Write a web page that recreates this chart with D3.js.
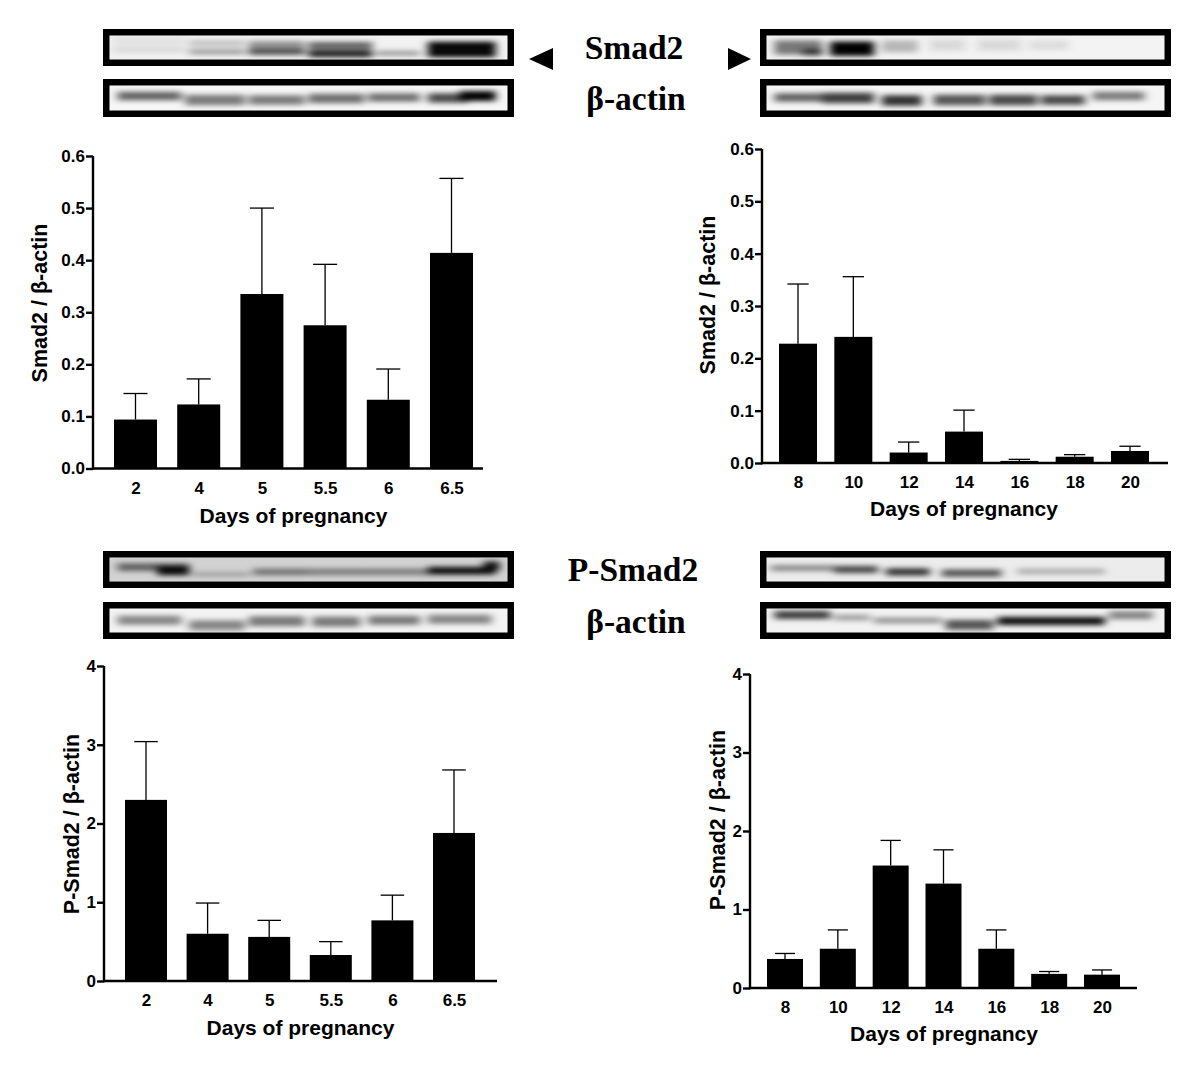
<!DOCTYPE html>
<html><head><meta charset="utf-8">
<script src="https://cdn.jsdelivr.net/npm/d3@7/dist/d3.min.js"></script>
<style>html,body{margin:0;padding:0;background:#fff}svg{display:block}text{fill:#000}</style>
</head><body><svg id="c" width="1200" height="1071"></svg>
<script>
const earlyDays = ["2","4","5","5.5","6","6.5"];
const lateDays = ["8","10","12","14","16","18","20"];
const smadEarly = [0.094,0.123,0.335,0.275,0.132,0.414];
const smadEarlyTop = [0.144,0.172,0.5,0.392,0.191,0.557];
const smadLate = [0.228,0.241,0.02,0.06,0.004,0.012,0.023];
const smadLateTop = [0.342,0.356,0.04,0.101,0.007,0.016,0.032];
const pEarly = [2.3,0.6,0.56,0.33,0.77,1.88];
const pEarlyTop = [3.04,0.99,0.77,0.5,1.09,2.68];
const pLate = [0.37,0.5,1.56,1.33,0.5,0.18,0.17];
const pLateTop = [0.44,0.74,1.88,1.76,0.74,0.21,0.23];
const smadTicks = [0,0.1,0.2,0.3,0.4,0.5,0.6];
const pTicks = [0,1,2,3,4];
// blot bands: [from, to, height position, thickness, darkness], all as fractions
const blotSmadEarly = [[.01,.19,.22,.25,.08],[.01,.19,.58,.25,.1],[.20,.34,.32,.25,.2],[.20,.34,.68,.22,.35],[.35,.49,.48,.5,.4],[.35,.49,.7,.22,.6],[.50,.66,.42,.3,.6],[.50,.66,.76,.28,.9],[.67,.78,.74,.18,.4],[.80,.97,.42,.32,1],[.80,.97,.74,.32,1]];
const blotActinEarly = [[.02,.18,.42,.34,.6],[.19,.34,.58,.42,.5],[.35,.49,.58,.38,.5],[.50,.64,.52,.38,.55],[.65,.78,.48,.34,.55],[.80,.90,.5,.38,.7],[.88,.97,.42,.4,1]];
const blotSmadLate = [[.02,.14,.5,.6,.5],[.09,.14,.7,.28,.6],[.16,.27,.55,.6,1],[.29,.38,.45,.5,.25],[.41,.5,.4,.5,.1],[.53,.64,.4,.5,.1],[.66,.76,.4,.4,.09]];
const blotActinLate = [[.02,.14,.48,.34,.6],[.14,.27,.5,.42,.75],[.29,.39,.6,.42,.8],[.42,.55,.58,.42,.65],[.56,.68,.58,.42,.7],[.69,.8,.58,.38,.7],[.82,.95,.42,.34,.5]];
const blotPEarly = [[.02,.2,.4,.32,.55],[.12,.2,.55,.38,.95],[.21,.35,.7,.18,.25],[.36,.5,.6,.28,.45],[.5,.63,.6,.28,.4],[.63,.8,.6,.28,.4],[.8,.97,.55,.32,.95],[.94,.98,.35,.38,.9]];
const blotActinPEarly = [[.02,.18,.49,.38,.45],[.2,.34,.7,.42,.45],[.35,.49,.53,.42,.5],[.51,.63,.55,.42,.5],[.65,.78,.49,.38,.5],[.8,.96,.45,.38,.45]];
const blotPLate = [[.01,.17,.44,.26,.4],[.17,.28,.5,.3,.7],[.3,.41,.6,.3,.8],[.44,.59,.65,.3,.65],[.63,.85,.58,.22,.28]];
const blotActinPLate = [[.02,.16,.27,.34,.75],[.17,.26,.38,.24,.35],[.27,.44,.5,.24,.4],[.45,.57,.68,.42,.65],[.58,.85,.52,.34,.95],[.86,.97,.28,.34,.45]];
const labels = {smad:"Smad2",p:"P-Smad2",actin:"β-actin",days:"Days of pregnancy",ySmad:"Smad2 / β-actin",yP:"P-Smad2 / β-actin"};

const svg = d3.select("#c");
const blur = svg.append("defs").append("filter").attr("id","b").attr("x","-10%").attr("y","-100%").attr("width","120%").attr("height","300%");
blur.append("feGaussianBlur").attr("stdDeviation","4 2.4");
const SANS = "'Liberation Sans',Arial,sans-serif", SERIF = "'Liberation Serif','Times New Roman',serif";

function blot(x,y,w,h,bg,bands){
  const g = svg.append("g");
  const ix=x+6.5, iy=y+6.5, iw=w-13, ih=h-13;
  const cid = "clip"+x+"_"+y;
  svg.select("defs").append("clipPath").attr("id",cid).append("rect").attr("x",ix).attr("y",iy).attr("width",iw).attr("height",ih);
  g.append("rect").attr("x",ix).attr("y",iy).attr("width",iw).attr("height",ih).attr("fill",bg);
  const sx = d3.scaleLinear().range([ix,ix+iw]), sy = d3.scaleLinear().range([iy,iy+ih]);
  g.append("g").attr("clip-path",`url(#${cid})`).append("g").attr("filter","url(#b)")
    .selectAll("rect").data(bands).join("rect")
    .attr("x",d=>sx(d[0])).attr("width",d=>sx(d[1])-sx(d[0]))
    .attr("y",d=>sy(d[2]-d[3]/2)).attr("height",d=>sy(d[3])-sy(0))
    .attr("fill","#000").attr("opacity",d=>d[4]);
  g.append("rect").attr("x",x+3.25).attr("y",y+3.25).attr("width",w-6.5).attr("height",h-6.5).attr("fill","none").attr("stroke","#000").attr("stroke-width",6.5);
}
blot(103,29,411,37,"#f1f1f1",blotSmadEarly);
blot(103,79,411,38,"#f6f6f6",blotActinEarly);
blot(760,29,411,37,"#f3f3f3",blotSmadLate);
blot(760,79,411,38,"#f5f5f5",blotActinLate);
blot(103,551,411,37,"#d2d2d2",blotPEarly);
blot(103,602,411,37,"#f3f3f3",blotActinPEarly);
blot(760,551,411,37,"#ececec",blotPLate);
blot(760,602,411,37,"#f2f2f2",blotActinPLate);

function head(t,x,y){svg.append("text").attr("x",x).attr("y",y).attr("text-anchor","middle").attr("font-family",SERIF).attr("font-weight","bold").attr("font-size",33.5).text(t);}
head(labels.smad,634,59); head(labels.actin,636,110); head(labels.p,633,581); head(labels.actin,636,633);
svg.append("path").attr("d",d3.line()([[529,59],[553,48],[553,70]])+"Z");
svg.append("path").attr("d",d3.line()([[751,59],[728,48],[728,70]])+"Z");

function chart(o){
  const g = svg.append("g");
  const y = d3.scaleLinear().domain(o.domain).range([o.y0,o.y1]);
  const x = d3.scalePoint().domain(o.cats).range([o.c0,o.c1]);
  g.selectAll(".bar").data(o.cats).join("rect")
    .attr("x",d=>x(d)-o.bw/2).attr("width",o.bw)
    .attr("y",(d,i)=>y(o.vals[i])).attr("height",(d,i)=>o.y0-y(o.vals[i])).attr("fill","#000");
  const err = g.append("g").attr("stroke","#000").attr("stroke-width",1.3);
  o.cats.forEach((d,i)=>{
    err.append("line").attr("x1",x(d)).attr("x2",x(d)).attr("y1",y(o.vals[i])).attr("y2",y(o.tops[i]));
    err.append("line").attr("x1",x(d)-o.bw*.28).attr("x2",x(d)+o.bw*.28).attr("y1",y(o.tops[i])).attr("y2",y(o.tops[i]));
  });
  const ya = g.append("g").attr("transform",`translate(${o.xa},0)`).call(d3.axisLeft(y).tickValues(o.ticks).tickSize(7).tickPadding(1).tickFormat(o.fmt));
  ya.selectAll("line,path").attr("stroke","#000").attr("stroke-width",2.4);
  ya.select("path").attr("d",`M0,${o.y0+1.2}V${o.y1}`);
  const xa = g.append("g").attr("transform",`translate(0,${o.y0})`).call(d3.axisBottom(x).tickSize(0).tickPadding(13));
  xa.select("path").attr("stroke","#000").attr("stroke-width",2.4).attr("d",`M${o.xa},0H${o.xe}`);
  g.selectAll("text").attr("font-family",SANS).attr("font-weight","bold").attr("font-size",17).attr("fill","#000");
  g.append("text").attr("x",o.tx).attr("y",o.y0+o.tdy).attr("text-anchor","middle").attr("font-family",SANS).attr("font-weight","bold").attr("font-size",21).text(labels.days);
  g.append("text").attr("transform",`translate(${o.yx},${o.yy}) rotate(-90)`).attr("text-anchor","middle").attr("font-family",SANS).attr("font-weight","bold").attr("font-size",21.5).text(o.yl);
}
const f1=d3.format(".1f"), f0=d3.format("d");
chart({cats:earlyDays,vals:smadEarly,tops:smadEarlyTop,domain:[0,.6],ticks:smadTicks,fmt:f1,y0:468.5,y1:156,xa:93,xe:483,c0:135.5,c1:451.5,bw:43,tx:293.5,tdy:54,yx:47,yy:303,yl:labels.ySmad});
chart({cats:lateDays,vals:smadLate,tops:smadLateTop,domain:[0,.6],ticks:smadTicks,fmt:f1,y0:463,y1:149,xa:762,xe:1168,c0:798,c1:1130,bw:38,tx:964,tdy:53,yx:715,yy:295,yl:labels.ySmad});
chart({cats:earlyDays,vals:pEarly,tops:pEarlyTop,domain:[0,4],ticks:pTicks,fmt:f0,y0:981,y1:666,xa:104,xe:497,c0:146,c1:454,bw:42,tx:300.5,tdy:54,yx:79,yy:824,yl:labels.yP});
chart({cats:lateDays,vals:pLate,tops:pLateTop,domain:[0,4],ticks:pTicks,fmt:f0,y0:988,y1:674,xa:750,xe:1137,c0:785,c1:1102,bw:36,tx:944,tdy:53,yx:725,yy:820,yl:labels.yP});
</script></body></html>
